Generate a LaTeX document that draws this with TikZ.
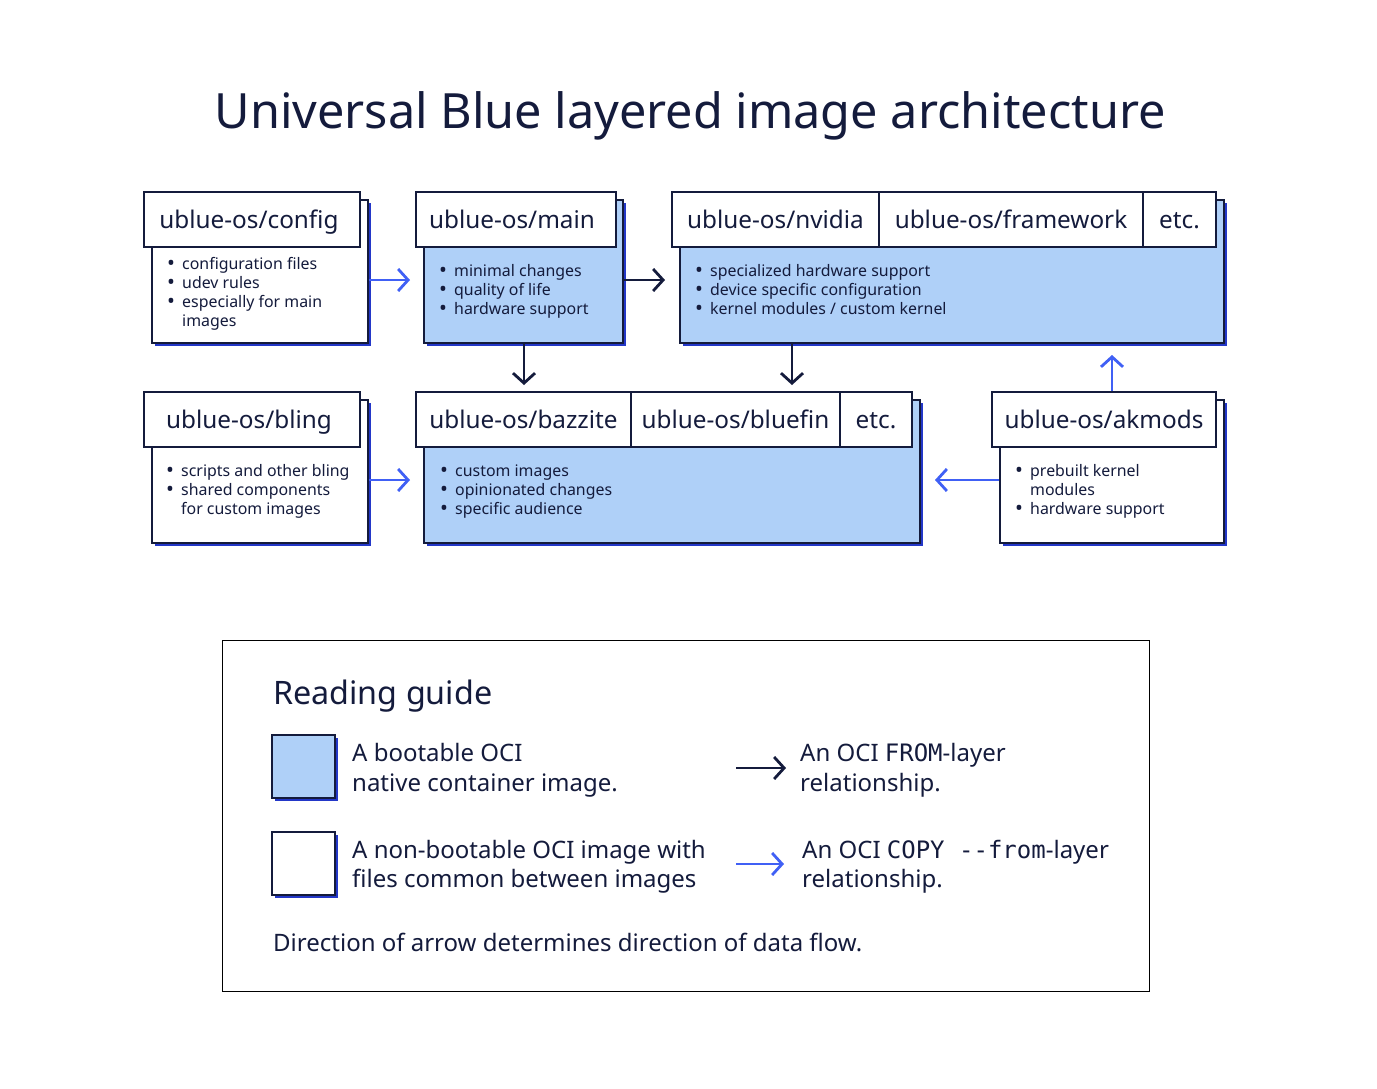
\documentclass[tikz,border=0pt]{standalone}
\usepackage{fontspec}
\setmainfont{Noto Sans}
\newfontfamily\monof{DejaVu Sans Mono}
\usetikzlibrary{arrows.meta,shadows,calc}
\definecolor{navy}{RGB}{20,27,60}
\definecolor{lblue}{RGB}{175,208,248}
\definecolor{sblue}{RGB}{35,55,200}
\definecolor{ablue}{RGB}{64,96,245}
\pgfdeclarelayer{bg}
\pgfsetlayers{bg,main}
\newcommand\hfont{\fontsize{24.3}{28}\selectfont}
\newcommand\bfont{\fontsize{15.9}{19}\selectfont}
\newcommand\gfont{\fontsize{24.0}{29.5}\selectfont}
\newcommand\bul{\makebox[16pt][l]{\hspace{1pt}\raisebox{-1.6pt}{\fontsize{21}{19}\selectfont\textbullet}}}
\newcommand\blist[1]{\begin{tabular}[t]{@{}l@{}l@{}}#1\end{tabular}}
\newcommand\mlines[1]{\begin{tabular}[t]{@{}l@{}}#1\end{tabular}}
\newcommand\hdrshadow[2]{\begin{pgfonlayer}{bg}\fill[sblue] ($(#1.south west)+(2.5pt,-2.5pt)$) rectangle ($(#2.north east)+(2.5pt,-2.5pt)$);\end{pgfonlayer}}
\tikzset{
  shad/.style={general shadow={fill=sblue, shadow xshift=2.5pt, shadow yshift=-2.5pt}},
  hdr/.style={draw=navy, line width=1.3pt, fill=white, inner sep=0pt, font=\hfont, text=navy, text height=20pt, text depth=1.6pt},
  bodyw/.style={draw=navy, line width=1.3pt, fill=white, shad, inner sep=0pt},
  bodyb/.style={draw=navy, line width=1.3pt, fill=lblue, shad, inner sep=0pt},
  items/.style={anchor=base west, inner sep=0pt, font=\bfont, text=navy},
  from/.style={draw=navy, line width=2.8pt, -{Straight Barb[length=10pt,width=22pt,line width=2.8pt]}},
  copy/.style={draw=ablue, line width=2.8pt, -{Straight Barb[length=10pt,width=22pt,line width=2.8pt]}},
  gtext/.style={anchor=base west, inner sep=0pt, font=\gfont, text=navy},
}
\begin{document}
\begin{tikzpicture}[x=1pt,y=-1pt]
\useasboundingbox[fill=white] (0,0) rectangle (1377,1088);
\node[anchor=base, inner sep=0pt, font=\fontsize{48.6}{56}\selectfont, text=navy] (title) at (690,128) {Universal Blue layered image architecture};

% config
\node[bodyw, minimum width=216pt, minimum height=143pt] (configb) at (260,271.5) {};
\node[hdr, minimum width=216pt, minimum height=55pt] (configh) at (252,219.5) {ublue-os/config\kern6pt};
\hdrshadow{configh}{configh}
\node[items] (configl) at (166,269) {\blist{\bul & configuration files\\ \bul & udev rules\\ \bul & especially for main\\ & images}};

% main
\node[bodyb, minimum width=199pt, minimum height=143pt] (mainb) at (523.5,271.5) {};
\node[hdr, minimum width=200pt, minimum height=55pt] (mainh) at (516,219.5) {ublue-os/main\kern8pt};
\hdrshadow{mainh}{mainh}
\node[items] (mainl) at (438,276) {\blist{\bul & minimal changes\\ \bul & quality of life\\ \bul & hardware support}};

% nvidia
\node[bodyb, minimum width=544pt, minimum height=143pt] (nvb) at (952,271.5) {};
\node[hdr, minimum width=207pt, minimum height=55pt] (nvh1) at (775.5,219.5) {ublue-os/nvidia};
\node[hdr, minimum width=264pt, minimum height=55pt] (nvh2) at (1011,219.5) {ublue-os/framework};
\node[hdr, minimum width=73pt, minimum height=55pt] (nvh3) at (1179.5,219.5) {etc.};
\hdrshadow{nvh1}{nvh3}
\node[items] (nvl) at (694,276) {\blist{\bul & specialized hardware support\\ \bul & device specific configuration\\ \bul & kernel modules / custom kernel}};

% bling
\node[bodyw, minimum width=216pt, minimum height=143pt] (blingb) at (260,471.5) {};
\node[hdr, minimum width=216pt, minimum height=55pt] (blingh) at (252,419.5) {ublue-os/bling\kern6pt};
\hdrshadow{blingh}{blingh}
\node[items] (blingl) at (165,476) {\blist{\bul & scripts and other bling\\ \bul & shared components\\ & for custom images}};

% bazzite
\node[bodyb, minimum width=496pt, minimum height=143pt] (bazb) at (672,471.5) {};
\node[hdr, minimum width=215pt, minimum height=55pt] (bazh1) at (523.5,419.5) {ublue-os/bazzite};
\node[hdr, minimum width=209pt, minimum height=55pt] (bazh2) at (735.5,419.5) {ublue-os/bluefin};
\node[hdr, minimum width=72pt, minimum height=55pt] (bazh3) at (876,419.5) {etc.};
\hdrshadow{bazh1}{bazh3}
\node[items] (bazl) at (439,476) {\blist{\bul & custom images\\ \bul & opinionated changes\\ \bul & specific audience}};

% akmods
\node[bodyw, minimum width=224pt, minimum height=143pt] (akb) at (1112,471.5) {};
\node[hdr, minimum width=224pt, minimum height=55pt] (akh) at (1104,419.5) {ublue-os/akmods};
\hdrshadow{akh}{akh}
\node[items] (akl) at (1014,476) {\blist{\bul & prebuilt kernel\\ & modules\\ \bul & hardware support}};

% connectors
\coordinate (c1) at (410,280);
\draw[copy] (configb.east |- c1) -- (c1);
\coordinate (c2) at (665,280);
\draw[from] (mainb.east |- c2) -- (c2);
\coordinate (c3) at (524,385);
\draw[from] (mainb.south -| c3) -- (c3);
\coordinate (c4) at (792,385);
\draw[from] (nvb.south -| c4) -- (c4);
\coordinate (c5) at (410,480);
\draw[copy] (blingb.east |- c5) -- (c5);
\coordinate (c6) at (935,480);
\draw[copy] (akb.west |- c6) -- (c6);
\coordinate (c7) at (1112,355);
\draw[copy] (akh.north -| c7) -- (c7);

% legend
\node[draw=black, line width=1pt, minimum width=927pt, minimum height=351pt, inner sep=0pt] (legend) at (685.5,815.5) {};
\node[anchor=base west, inner sep=0pt, font=\fontsize{32.3}{36}\selectfont, text=navy] (rg) at (273,704) {Reading guide};
\node[draw=navy, line width=1.3pt, fill=lblue, shad, minimum width=63pt, minimum height=63pt, inner sep=0pt] (sq1) at (303.5,766.5) {};
\node[draw=navy, line width=1.3pt, fill=white, shad, minimum width=63pt, minimum height=63pt, inner sep=0pt] (sq2) at (303.5,863.5) {};
\node[gtext] (t1) at (352,761.5) {\mlines{A bootable OCI\\ native container image.}};
\node[gtext] (t2) at (352,858) {\mlines{A non-bootable OCI image with\\ files common between images}};
\coordinate (a1s) at (736,768);
\coordinate (a1e) at (786,768);
\draw[from, line width=2.5pt] (a1s) -- (a1e);
\coordinate (a2s) at (736,864);
\coordinate (a2e) at (784,864);
\draw[copy, line width=2.5pt] (a2s) -- (a2e);
\node[gtext] (t3) at (800,761.5) {\mlines{An OCI {\monof FROM}-layer\\ relationship.}};
\node[gtext] (t4) at (802,858) {\mlines{An OCI {\monof COPY\ -{}-from}-layer\\ relationship.}};
\node[gtext] (t5) at (273,951) {Direction of arrow determines direction of data flow.};
\end{tikzpicture}
\end{document}
